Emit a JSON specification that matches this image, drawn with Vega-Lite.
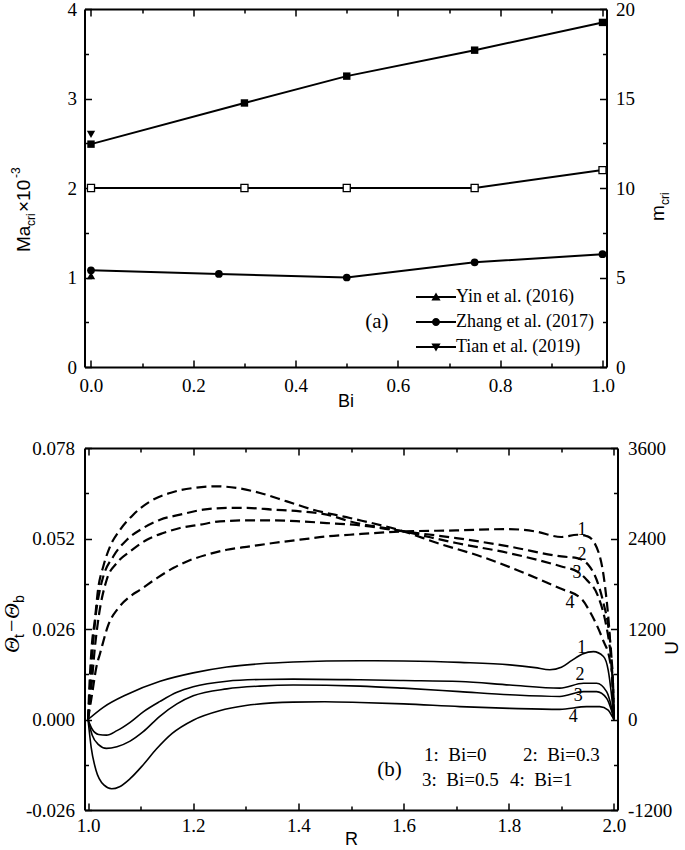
{
 "$schema": "https://vega.github.io/schema/vega-lite/v6.json",
 "background": "white",
 "padding": {"left": 0.5, "top": 0, "right": 0, "bottom": 0},
 "spacing": 29,
 "config": {
  "font": "Liberation Serif",
  "view": {"stroke": null},
  "style": {"guide-label": {"font": "Liberation Serif"}, "guide-title": {"font": "Liberation Sans"}},
  "axis": {"domainColor": "black", "domainWidth": 2, "tickColor": "black", "tickWidth": 1.5, "labelFont": "Liberation Serif", "labelFontSize": 19, "labelColor": "black", "grid": false, "labelFlush": false, "labelOverlap": false, "labelBound": false, "titleColor": "black", "titleFont": "Liberation Sans", "titleFontSize": 18, "titleFontWeight": "normal"},
  "legend": {"labelFont": "Liberation Serif"}
 },
 "datasets": {
  "pa": [
   {"s": "sq", "Bi": 0, "Ma": 2.49}, {"s": "sq", "Bi": 0.3, "Ma": 2.95}, {"s": "sq", "Bi": 0.5, "Ma": 3.25}, {"s": "sq", "Bi": 0.75, "Ma": 3.54}, {"s": "sq", "Bi": 1, "Ma": 3.85},
   {"s": "Zhang et al. (2017)", "Bi": 0, "Ma": 1.08}, {"s": "Zhang et al. (2017)", "Bi": 0.25, "Ma": 1.04}, {"s": "Zhang et al. (2017)", "Bi": 0.5, "Ma": 1.0}, {"s": "Zhang et al. (2017)", "Bi": 0.75, "Ma": 1.17}, {"s": "Zhang et al. (2017)", "Bi": 1, "Ma": 1.26},
   {"s": "Yin et al. (2016)", "Bi": 0, "Ma": 1.02},
   {"s": "Tian et al. (2019)", "Bi": 0, "Ma": 2.6}
  ],
  "pm": [
   {"Bi": 0, "m": 10}, {"Bi": 0.3, "m": 10}, {"Bi": 0.5, "m": 10}, {"Bi": 0.75, "m": 10}, {"Bi": 1, "m": 11}
  ],
  "th": [
   {"c": "1", "R": 1.0, "v": 0}, {"c": "1", "R": 1.029, "v": 0.0035}, {"c": "1", "R": 1.074, "v": 0.0072}, {"c": "1", "R": 1.137, "v": 0.011}, {"c": "1", "R": 1.2, "v": 0.0134}, {"c": "1", "R": 1.264, "v": 0.0151}, {"c": "1", "R": 1.327, "v": 0.016}, {"c": "1", "R": 1.39, "v": 0.0165}, {"c": "1", "R": 1.517, "v": 0.0169}, {"c": "1", "R": 1.6, "v": 0.0168}, {"c": "1", "R": 1.707, "v": 0.0164}, {"c": "1", "R": 1.802, "v": 0.0157}, {"c": "1", "R": 1.85, "v": 0.0149}, {"c": "1", "R": 1.878, "v": 0.0143}, {"c": "1", "R": 1.9, "v": 0.015}, {"c": "1", "R": 1.92, "v": 0.017}, {"c": "1", "R": 1.94, "v": 0.0188}, {"c": "1", "R": 1.961, "v": 0.0195}, {"c": "1", "R": 1.98, "v": 0.0181}, {"c": "1", "R": 1.989, "v": 0.0142}, {"c": "1", "R": 1.995, "v": 0.0075}, {"c": "1", "R": 2.0, "v": 0},
   {"c": "2", "R": 1.0, "v": 0}, {"c": "2", "R": 1.008, "v": -0.0028}, {"c": "2", "R": 1.02, "v": -0.0043}, {"c": "2", "R": 1.035, "v": -0.0045}, {"c": "2", "R": 1.055, "v": -0.0032}, {"c": "2", "R": 1.08, "v": -0.0008}, {"c": "2", "R": 1.105, "v": 0.0022}, {"c": "2", "R": 1.137, "v": 0.0052}, {"c": "2", "R": 1.169, "v": 0.0078}, {"c": "2", "R": 1.2, "v": 0.0094}, {"c": "2", "R": 1.264, "v": 0.011}, {"c": "2", "R": 1.327, "v": 0.0115}, {"c": "2", "R": 1.39, "v": 0.0116}, {"c": "2", "R": 1.517, "v": 0.0114}, {"c": "2", "R": 1.6, "v": 0.0112}, {"c": "2", "R": 1.707, "v": 0.0109}, {"c": "2", "R": 1.802, "v": 0.0099}, {"c": "2", "R": 1.897, "v": 0.009}, {"c": "2", "R": 1.942, "v": 0.0104}, {"c": "2", "R": 1.967, "v": 0.0104}, {"c": "2", "R": 1.986, "v": 0.008}, {"c": "2", "R": 1.995, "v": 0.0037}, {"c": "2", "R": 2.0, "v": 0},
   {"c": "3", "R": 1.0, "v": 0}, {"c": "3", "R": 1.008, "v": -0.0045}, {"c": "3", "R": 1.02, "v": -0.0072}, {"c": "3", "R": 1.035, "v": -0.0083}, {"c": "3", "R": 1.055, "v": -0.0078}, {"c": "3", "R": 1.08, "v": -0.0062}, {"c": "3", "R": 1.105, "v": -0.0035}, {"c": "3", "R": 1.137, "v": 0.001}, {"c": "3", "R": 1.169, "v": 0.0045}, {"c": "3", "R": 1.2, "v": 0.0068}, {"c": "3", "R": 1.264, "v": 0.0088}, {"c": "3", "R": 1.327, "v": 0.0096}, {"c": "3", "R": 1.39, "v": 0.0099}, {"c": "3", "R": 1.517, "v": 0.0096}, {"c": "3", "R": 1.6, "v": 0.009}, {"c": "3", "R": 1.707, "v": 0.008}, {"c": "3", "R": 1.802, "v": 0.0071}, {"c": "3", "R": 1.897, "v": 0.0066}, {"c": "3", "R": 1.942, "v": 0.008}, {"c": "3", "R": 1.967, "v": 0.008}, {"c": "3", "R": 1.986, "v": 0.0061}, {"c": "3", "R": 1.995, "v": 0.0027}, {"c": "3", "R": 2.0, "v": 0},
   {"c": "4", "R": 1.0, "v": 0}, {"c": "4", "R": 1.006, "v": -0.008}, {"c": "4", "R": 1.015, "v": -0.0145}, {"c": "4", "R": 1.03, "v": -0.0188}, {"c": "4", "R": 1.045, "v": -0.0199}, {"c": "4", "R": 1.06, "v": -0.0193}, {"c": "4", "R": 1.08, "v": -0.017}, {"c": "4", "R": 1.105, "v": -0.013}, {"c": "4", "R": 1.13, "v": -0.0085}, {"c": "4", "R": 1.16, "v": -0.004}, {"c": "4", "R": 1.2, "v": -0.0002}, {"c": "4", "R": 1.25, "v": 0.0025}, {"c": "4", "R": 1.3, "v": 0.004}, {"c": "4", "R": 1.39, "v": 0.005}, {"c": "4", "R": 1.45, "v": 0.0051}, {"c": "4", "R": 1.517, "v": 0.0049}, {"c": "4", "R": 1.6, "v": 0.0045}, {"c": "4", "R": 1.707, "v": 0.0037}, {"c": "4", "R": 1.802, "v": 0.0032}, {"c": "4", "R": 1.897, "v": 0.0029}, {"c": "4", "R": 1.948, "v": 0.0037}, {"c": "4", "R": 1.973, "v": 0.0037}, {"c": "4", "R": 1.989, "v": 0.0027}, {"c": "4", "R": 1.997, "v": 0.0008}, {"c": "4", "R": 2.0, "v": 0}
  ],
  "u": [
   {"c": "1", "R": 1.0, "U": 0}, {"c": "1", "R": 1.008, "U": 350}, {"c": "1", "R": 1.016, "U": 700}, {"c": "1", "R": 1.023, "U": 879}, {"c": "1", "R": 1.0386, "U": 1255}, {"c": "1", "R": 1.0576, "U": 1477}, {"c": "1", "R": 1.08, "U": 1631}, {"c": "1", "R": 1.099, "U": 1720}, {"c": "1", "R": 1.131, "U": 1875}, {"c": "1", "R": 1.162, "U": 2008}, {"c": "1", "R": 1.188, "U": 2096}, {"c": "1", "R": 1.226, "U": 2185}, {"c": "1", "R": 1.264, "U": 2251}, {"c": "1", "R": 1.308, "U": 2295}, {"c": "1", "R": 1.352, "U": 2340}, {"c": "1", "R": 1.403, "U": 2384}, {"c": "1", "R": 1.454, "U": 2428}, {"c": "1", "R": 1.498, "U": 2450}, {"c": "1", "R": 1.6, "U": 2494}, {"c": "1", "R": 1.7, "U": 2507}, {"c": "1", "R": 1.8, "U": 2525}, {"c": "1", "R": 1.85, "U": 2494}, {"c": "1", "R": 1.9, "U": 2420}, {"c": "1", "R": 1.93, "U": 2450}, {"c": "1", "R": 1.95, "U": 2428}, {"c": "1", "R": 1.971, "U": 2211}, {"c": "1", "R": 1.983, "U": 1764}, {"c": "1", "R": 1.992, "U": 1100}, {"c": "1", "R": 1.996, "U": 617}, {"c": "1", "R": 2.0, "U": 0},
   {"c": "2", "R": 1.0, "U": 0}, {"c": "2", "R": 1.006, "U": 400}, {"c": "2", "R": 1.013, "U": 950}, {"c": "2", "R": 1.02, "U": 1350}, {"c": "2", "R": 1.0355, "U": 1853}, {"c": "2", "R": 1.0545, "U": 2074}, {"c": "2", "R": 1.08, "U": 2228}, {"c": "2", "R": 1.112, "U": 2384}, {"c": "2", "R": 1.143, "U": 2473}, {"c": "2", "R": 1.175, "U": 2539}, {"c": "2", "R": 1.213, "U": 2583}, {"c": "2", "R": 1.251, "U": 2627}, {"c": "2", "R": 1.302, "U": 2640}, {"c": "2", "R": 1.352, "U": 2640}, {"c": "2", "R": 1.403, "U": 2627}, {"c": "2", "R": 1.454, "U": 2605}, {"c": "2", "R": 1.504, "U": 2583}, {"c": "2", "R": 1.6, "U": 2494}, {"c": "2", "R": 1.7, "U": 2406}, {"c": "2", "R": 1.8, "U": 2295}, {"c": "2", "R": 1.9, "U": 2162}, {"c": "2", "R": 1.93, "U": 2140}, {"c": "2", "R": 1.951, "U": 2052}, {"c": "2", "R": 1.967, "U": 1853}, {"c": "2", "R": 1.98, "U": 1543}, {"c": "2", "R": 1.99, "U": 1189}, {"c": "2", "R": 1.9955, "U": 790}, {"c": "2", "R": 2.0, "U": 0},
   {"c": "3", "R": 1.0, "U": 0}, {"c": "3", "R": 1.004, "U": 450}, {"c": "3", "R": 1.009, "U": 950}, {"c": "3", "R": 1.015, "U": 1400}, {"c": "3", "R": 1.022, "U": 1700}, {"c": "3", "R": 1.029, "U": 1896}, {"c": "3", "R": 1.048, "U": 2162}, {"c": "3", "R": 1.074, "U": 2384}, {"c": "3", "R": 1.105, "U": 2539}, {"c": "3", "R": 1.137, "U": 2649}, {"c": "3", "R": 1.175, "U": 2716}, {"c": "3", "R": 1.219, "U": 2782}, {"c": "3", "R": 1.264, "U": 2805}, {"c": "3", "R": 1.302, "U": 2805}, {"c": "3", "R": 1.352, "U": 2782}, {"c": "3", "R": 1.403, "U": 2760}, {"c": "3", "R": 1.454, "U": 2716}, {"c": "3", "R": 1.498, "U": 2627}, {"c": "3", "R": 1.6, "U": 2494}, {"c": "3", "R": 1.7, "U": 2340}, {"c": "3", "R": 1.8, "U": 2207}, {"c": "3", "R": 1.9, "U": 2029}, {"c": "3", "R": 1.93, "U": 1963}, {"c": "3", "R": 1.948, "U": 1853}, {"c": "3", "R": 1.97, "U": 1631}, {"c": "3", "R": 1.983, "U": 1321}, {"c": "3", "R": 1.991, "U": 1012}, {"c": "3", "R": 1.997, "U": 657}, {"c": "3", "R": 2.0, "U": 0},
   {"c": "4", "R": 1.0, "U": 0}, {"c": "4", "R": 1.003, "U": 500}, {"c": "4", "R": 1.007, "U": 967}, {"c": "4", "R": 1.013, "U": 1321}, {"c": "4", "R": 1.019, "U": 1720}, {"c": "4", "R": 1.029, "U": 2029}, {"c": "4", "R": 1.042, "U": 2295}, {"c": "4", "R": 1.061, "U": 2517}, {"c": "4", "R": 1.086, "U": 2716}, {"c": "4", "R": 1.118, "U": 2892}, {"c": "4", "R": 1.156, "U": 3004}, {"c": "4", "R": 1.2, "U": 3070}, {"c": "4", "R": 1.245, "U": 3092}, {"c": "4", "R": 1.283, "U": 3070}, {"c": "4", "R": 1.327, "U": 3004}, {"c": "4", "R": 1.378, "U": 2892}, {"c": "4", "R": 1.428, "U": 2782}, {"c": "4", "R": 1.498, "U": 2672}, {"c": "4", "R": 1.6, "U": 2494}, {"c": "4", "R": 1.664, "U": 2340}, {"c": "4", "R": 1.747, "U": 2162}, {"c": "4", "R": 1.83, "U": 1941}, {"c": "4", "R": 1.896, "U": 1742}, {"c": "4", "R": 1.938, "U": 1600}, {"c": "4", "R": 1.955, "U": 1420}, {"c": "4", "R": 1.979, "U": 1055}, {"c": "4", "R": 1.992, "U": 790}, {"c": "4", "R": 1.998, "U": 500}, {"c": "4", "R": 2.0, "U": 0}
  ]
 },
 "vconcat": [
  {
   "width": 522, "height": 358,
   "layer": [
    {
     "layer": [
      {"data": {"name": "pa"}, "transform": [{"filter": "datum.s === 'sq'"}], "mark": {"type": "line", "color": "black", "strokeWidth": 2},
       "encoding": {
        "x": {"field": "Bi", "type": "quantitative", "scale": {"domain": [-0.0127, 1.0078]},
         "axis": {"orient": "bottom", "values": [0, 0.2, 0.4, 0.6, 0.8, 1.0], "format": ".1f", "tickSize": -7, "labelPadding": 16, "labelFont": "Liberation Serif", "title": "Bi", "titlePadding": -3}},
        "y": {"field": "Ma", "type": "quantitative", "scale": {"domain": [0, 4]},
         "axis": {"orient": "left", "values": [0, 1, 2, 3, 4], "format": "d", "tickSize": -7, "labelPadding": 15, "labelFont": "Liberation Serif", "title": null}}
       }},
      {"data": {"name": "pa"}, "transform": [{"filter": "datum.s === 'sq'"}], "mark": {"type": "square", "color": "black", "filled": true, "size": 55, "opacity": 1},
       "encoding": {"x": {"field": "Bi", "type": "quantitative", "scale": {"domain": [-0.0127, 1.0078]}}, "y": {"field": "Ma", "type": "quantitative", "scale": {"domain": [0, 4]}}}},
      {"data": {"name": "pa"}, "transform": [{"filter": "datum.s === 'Zhang et al. (2017)'"}], "mark": {"type": "line", "color": "black", "strokeWidth": 2},
       "encoding": {"x": {"field": "Bi", "type": "quantitative", "scale": {"domain": [-0.0127, 1.0078]}}, "y": {"field": "Ma", "type": "quantitative", "scale": {"domain": [0, 4]}}}},
      {"data": {"name": "pa"}, "transform": [{"filter": "datum.s === 'Zhang et al. (2017)'"}], "mark": {"type": "point", "shape": "circle", "color": "black", "filled": true, "size": 60, "opacity": 1},
       "encoding": {"x": {"field": "Bi", "type": "quantitative", "scale": {"domain": [-0.0127, 1.0078]}}, "y": {"field": "Ma", "type": "quantitative", "scale": {"domain": [0, 4]}}}},
      {"data": {"name": "pa"}, "transform": [{"filter": "datum.s === 'Yin et al. (2016)'"}], "mark": {"type": "point", "shape": "triangle-up", "color": "black", "filled": true, "size": 70, "opacity": 1},
       "encoding": {"x": {"field": "Bi", "type": "quantitative", "scale": {"domain": [-0.0127, 1.0078]}}, "y": {"field": "Ma", "type": "quantitative", "scale": {"domain": [0, 4]}}}},
      {"data": {"name": "pa"}, "transform": [{"filter": "datum.s === 'Tian et al. (2019)'"}], "mark": {"type": "point", "shape": "triangle-down", "color": "black", "filled": true, "size": 70, "opacity": 1},
       "encoding": {"x": {"field": "Bi", "type": "quantitative", "scale": {"domain": [-0.0127, 1.0078]}}, "y": {"field": "Ma", "type": "quantitative", "scale": {"domain": [0, 4]}}}},
      {"data": {"name": "pa"}, "transform": [{"filter": "datum.s !== 'sq'"}], "mark": {"type": "point", "color": "black", "filled": true, "size": 64, "opacity": 0},
       "encoding": {
        "x": {"field": "Bi", "type": "quantitative", "scale": {"domain": [-0.0127, 1.0078]}},
        "y": {"field": "Ma", "type": "quantitative", "scale": {"domain": [0, 4]}},
        "shape": {"field": "s", "type": "nominal", "scale": {"domain": ["Yin et al. (2016)", "Zhang et al. (2017)", "Tian et al. (2019)"], "range": ["M-5,-0.25H5V0.25H-5ZM0,-1.15L1.15,0.85L-1.15,0.85Z", "M-5,-0.25H5V0.25H-5ZM-1,0A1,1,0,1,1,1,0A1,1,0,1,1,-1,0Z", "M-5,-0.25H5V0.25H-5ZM0,1.15L-1.15,-0.85L1.15,-0.85Z"]},
         "legend": {"orient": "none", "legendX": 342.5, "legendY": 279, "title": null, "labelFont": "Liberation Serif", "labelFontSize": 18, "labelColor": "black", "symbolSize": 64, "symbolOpacity": 1, "symbolFillColor": "black", "labelOffset": 11, "rowPadding": 7}}
       }},
      {"data": {"values": [{}]}, "mark": {"type": "text", "text": "(a)", "font": "Liberation Serif", "fontSize": 21, "align": "center", "baseline": "middle", "color": "black"},
       "encoding": {"x": {"datum": 0.559, "type": "quantitative", "scale": {"domain": [-0.0127, 1.0078]}}, "y": {"datum": 0.503, "type": "quantitative", "scale": {"domain": [0, 4]}}}},
      {"data": {"values": [{}]}, "mark": {"type": "text", "text": "Ma", "font": "Liberation Sans", "fontSize": 19, "angle": 270, "align": "left", "baseline": "alphabetic", "color": "black"},
       "encoding": {"x": {"datum": -0.1192, "type": "quantitative", "scale": {"domain": [-0.0127, 1.0078]}}, "y": {"datum": 1.285, "type": "quantitative", "scale": {"domain": [0, 4]}}}},
      {"data": {"values": [{}]}, "mark": {"type": "text", "text": "cri", "font": "Liberation Sans", "fontSize": 12, "angle": 270, "align": "left", "baseline": "alphabetic", "dx": 26, "dy": 5, "color": "black"},
       "encoding": {"x": {"datum": -0.1192, "type": "quantitative", "scale": {"domain": [-0.0127, 1.0078]}}, "y": {"datum": 1.285, "type": "quantitative", "scale": {"domain": [0, 4]}}}},
      {"data": {"values": [{}]}, "mark": {"type": "text", "text": "×10", "font": "Liberation Sans", "fontSize": 19, "angle": 270, "align": "left", "baseline": "alphabetic", "dx": 40, "color": "black"},
       "encoding": {"x": {"datum": -0.1192, "type": "quantitative", "scale": {"domain": [-0.0127, 1.0078]}}, "y": {"datum": 1.285, "type": "quantitative", "scale": {"domain": [0, 4]}}}},
      {"data": {"values": [{}]}, "mark": {"type": "text", "text": "-3", "font": "Liberation Sans", "fontSize": 12, "angle": 270, "align": "left", "baseline": "alphabetic", "dx": 74, "dy": -10, "color": "black"},
       "encoding": {"x": {"datum": -0.1192, "type": "quantitative", "scale": {"domain": [-0.0127, 1.0078]}}, "y": {"datum": 1.285, "type": "quantitative", "scale": {"domain": [0, 4]}}}}
     ]
    },
    {
     "layer": [
      {"data": {"name": "pm"}, "mark": {"type": "line", "color": "black", "strokeWidth": 2},
       "encoding": {
        "x": {"field": "Bi", "type": "quantitative", "scale": {"domain": [-0.0127, 1.0078]},
         "axis": {"orient": "top", "values": [0, 0.2, 0.4, 0.6, 0.8, 1.0], "labels": false, "tickSize": -7, "title": null}},
        "y": {"field": "m", "type": "quantitative", "scale": {"domain": [0, 20]},
         "axis": {"orient": "right", "values": [0, 5, 10, 15, 20], "format": "d", "tickSize": -7, "labelPadding": 16, "labelFont": "Liberation Serif", "title": null}}
       }},
      {"data": {"name": "pm"}, "mark": {"type": "square", "filled": true, "fill": "white", "stroke": "black", "strokeWidth": 1.3, "size": 50, "opacity": 1},
       "encoding": {"x": {"field": "Bi", "type": "quantitative", "scale": {"domain": [-0.0127, 1.0078]}}, "y": {"field": "m", "type": "quantitative", "scale": {"domain": [0, 20]}}}},
      {"data": {"values": [{}]}, "mark": {"type": "text", "text": "m", "font": "Liberation Sans", "fontSize": 19, "angle": 270, "align": "left", "baseline": "alphabetic", "color": "black"},
       "encoding": {"x": {"datum": 1.1203, "type": "quantitative", "scale": {"domain": [-0.0127, 1.0078]}}, "y": {"datum": 8.16, "type": "quantitative", "scale": {"domain": [0, 20]}}}},
      {"data": {"values": [{}]}, "mark": {"type": "text", "text": "cri", "font": "Liberation Sans", "fontSize": 12, "angle": 270, "align": "left", "baseline": "alphabetic", "dx": 16, "dy": 5, "color": "black"},
       "encoding": {"x": {"datum": 1.1203, "type": "quantitative", "scale": {"domain": [-0.0127, 1.0078]}}, "y": {"datum": 8.16, "type": "quantitative", "scale": {"domain": [0, 20]}}}}
     ]
    },
    {
     "layer": [
      {"data": {"values": [{}]}, "mark": {"type": "text", "text": ""},
       "encoding": {
        "x": {"datum": 0.5, "type": "quantitative", "scale": {"domain": [-0.0127, 1.0078]}, "axis": {"orient": "bottom", "values": [0.1, 0.3, 0.5, 0.7, 0.9], "labels": false, "domain": false, "tickSize": -4, "title": null}},
        "y": {"datum": 2, "type": "quantitative", "scale": {"domain": [0, 4]}, "axis": {"orient": "left", "values": [0.5, 1.5, 2.5, 3.5], "labels": false, "domain": false, "tickSize": -4, "title": null}}
       }}
     ]
    },
    {
     "layer": [
      {"data": {"values": [{}]}, "mark": {"type": "text", "text": ""},
       "encoding": {
        "x": {"datum": 0.5, "type": "quantitative", "scale": {"domain": [-0.0127, 1.0078]}, "axis": {"orient": "top", "values": [0.1, 0.3, 0.5, 0.7, 0.9], "labels": false, "domain": false, "tickSize": -4, "title": null}},
        "y": {"datum": 2, "type": "quantitative", "scale": {"domain": [0, 4]}, "axis": {"orient": "right", "values": [0.5, 1.5, 2.5, 3.5], "labels": false, "domain": false, "tickSize": -4, "title": null}}
       }}
     ]
    }
   ],
   "resolve": {"scale": {"y": "independent"}, "axis": {"x": "independent"}}
  },
  {
   "width": 533, "height": 362,
   "layer": [
    {
     "layer": [
      {"data": {"name": "th"}, "mark": {"type": "line", "color": "black", "strokeWidth": 1.6, "interpolate": "monotone"},
       "encoding": {
        "x": {"field": "R", "type": "quantitative", "scale": {"domain": [0.9933, 2.0067]},
         "axis": {"orient": "bottom", "values": [1.0, 1.2, 1.4, 1.6, 1.8, 2.0], "format": ".1f", "tickSize": -7, "labelPadding": 13, "labelFont": "Liberation Serif", "title": "R", "titlePadding": -5}},
        "y": {"field": "v", "type": "quantitative", "scale": {"domain": [-0.026, 0.078]},
         "axis": {"orient": "left", "values": [-0.026, 0, 0.026, 0.052, 0.078], "labelExpr": "replace(format(datum.value,'.3f'),'\u2212','-')", "tickSize": -7, "labelPadding": 17, "labelFont": "Liberation Serif", "title": null}},
        "detail": {"field": "c", "type": "nominal"}
       }},
      {"data": {"values": [{}]}, "mark": {"type": "text", "text": "Θ", "font": "Liberation Serif", "fontStyle": "italic", "fontSize": 22, "angle": 270, "align": "left", "baseline": "alphabetic", "color": "black"},
       "encoding": {"x": {"datum": 0.8688, "type": "quantitative", "scale": {"domain": [0.9933, 2.0067]}}, "y": {"datum": 0.0191, "type": "quantitative", "scale": {"domain": [-0.026, 0.078]}}}},
      {"data": {"values": [{}]}, "mark": {"type": "text", "text": "t", "font": "Liberation Sans", "fontSize": 14, "angle": 270, "align": "left", "baseline": "alphabetic", "dx": 15, "dy": 5, "color": "black"},
       "encoding": {"x": {"datum": 0.8688, "type": "quantitative", "scale": {"domain": [0.9933, 2.0067]}}, "y": {"datum": 0.0191, "type": "quantitative", "scale": {"domain": [-0.026, 0.078]}}}},
      {"data": {"values": [{}]}, "mark": {"type": "text", "text": "−", "font": "Liberation Serif", "fontSize": 22, "angle": 270, "align": "left", "baseline": "alphabetic", "dx": 21, "color": "black"},
       "encoding": {"x": {"datum": 0.8688, "type": "quantitative", "scale": {"domain": [0.9933, 2.0067]}}, "y": {"datum": 0.0191, "type": "quantitative", "scale": {"domain": [-0.026, 0.078]}}}},
      {"data": {"values": [{}]}, "mark": {"type": "text", "text": "Θ", "font": "Liberation Serif", "fontStyle": "italic", "fontSize": 22, "angle": 270, "align": "left", "baseline": "alphabetic", "dx": 34, "color": "black"},
       "encoding": {"x": {"datum": 0.8688, "type": "quantitative", "scale": {"domain": [0.9933, 2.0067]}}, "y": {"datum": 0.0191, "type": "quantitative", "scale": {"domain": [-0.026, 0.078]}}}},
      {"data": {"values": [{}]}, "mark": {"type": "text", "text": "b", "font": "Liberation Sans", "fontSize": 14, "angle": 270, "align": "left", "baseline": "alphabetic", "dx": 50, "dy": 5, "color": "black"},
       "encoding": {"x": {"datum": 0.8688, "type": "quantitative", "scale": {"domain": [0.9933, 2.0067]}}, "y": {"datum": 0.0191, "type": "quantitative", "scale": {"domain": [-0.026, 0.078]}}}},
      {"data": {"values": [{}]}, "mark": {"type": "text", "text": "U", "font": "Liberation Sans", "fontSize": 19, "angle": 270, "align": "center", "baseline": "middle", "color": "black"},
       "encoding": {"x": {"datum": 2.1102, "type": "quantitative", "scale": {"domain": [0.9933, 2.0067]}}, "y": {"datum": 0.0206, "type": "quantitative", "scale": {"domain": [-0.026, 0.078]}}}},
      {"data": {"values": [{}]}, "mark": {"type": "text", "text": "1", "font": "Liberation Serif", "fontSize": 18, "align": "center", "baseline": "middle", "color": "black"},
       "encoding": {"x": {"datum": 1.9392, "type": "quantitative", "scale": {"domain": [0.9933, 2.0067]}}, "y": {"datum": 0.0545, "type": "quantitative", "scale": {"domain": [-0.026, 0.078]}}}},
      {"data": {"values": [{}]}, "mark": {"type": "text", "text": "2", "font": "Liberation Serif", "fontSize": 18, "align": "center", "baseline": "middle", "color": "black"},
       "encoding": {"x": {"datum": 1.9392, "type": "quantitative", "scale": {"domain": [0.9933, 2.0067]}}, "y": {"datum": 0.0473, "type": "quantitative", "scale": {"domain": [-0.026, 0.078]}}}},
      {"data": {"values": [{}]}, "mark": {"type": "text", "text": "3", "font": "Liberation Serif", "fontSize": 18, "align": "center", "baseline": "middle", "color": "black"},
       "encoding": {"x": {"datum": 1.9297, "type": "quantitative", "scale": {"domain": [0.9933, 2.0067]}}, "y": {"datum": 0.0421, "type": "quantitative", "scale": {"domain": [-0.026, 0.078]}}}},
      {"data": {"values": [{}]}, "mark": {"type": "text", "text": "4", "font": "Liberation Serif", "fontSize": 18, "align": "center", "baseline": "middle", "color": "black"},
       "encoding": {"x": {"datum": 1.9164, "type": "quantitative", "scale": {"domain": [0.9933, 2.0067]}}, "y": {"datum": 0.0334, "type": "quantitative", "scale": {"domain": [-0.026, 0.078]}}}},
      {"data": {"values": [{}]}, "mark": {"type": "text", "text": "1", "font": "Liberation Serif", "fontSize": 18, "align": "center", "baseline": "middle", "color": "black"},
       "encoding": {"x": {"datum": 1.9386, "type": "quantitative", "scale": {"domain": [0.9933, 2.0067]}}, "y": {"datum": 0.0205, "type": "quantitative", "scale": {"domain": [-0.026, 0.078]}}}},
      {"data": {"values": [{}]}, "mark": {"type": "text", "text": "2", "font": "Liberation Serif", "fontSize": 18, "align": "center", "baseline": "middle", "color": "black"},
       "encoding": {"x": {"datum": 1.9354, "type": "quantitative", "scale": {"domain": [0.9933, 2.0067]}}, "y": {"datum": 0.0128, "type": "quantitative", "scale": {"domain": [-0.026, 0.078]}}}},
      {"data": {"values": [{}]}, "mark": {"type": "text", "text": "3", "font": "Liberation Serif", "fontSize": 18, "align": "center", "baseline": "middle", "color": "black"},
       "encoding": {"x": {"datum": 1.9321, "type": "quantitative", "scale": {"domain": [0.9933, 2.0067]}}, "y": {"datum": 0.0068, "type": "quantitative", "scale": {"domain": [-0.026, 0.078]}}}},
      {"data": {"values": [{}]}, "mark": {"type": "text", "text": "4", "font": "Liberation Serif", "fontSize": 18, "align": "center", "baseline": "middle", "color": "black"},
       "encoding": {"x": {"datum": 1.9226, "type": "quantitative", "scale": {"domain": [0.9933, 2.0067]}}, "y": {"datum": 0.0008, "type": "quantitative", "scale": {"domain": [-0.026, 0.078]}}}},
      {"data": {"values": [{}]}, "mark": {"type": "text", "text": "1:\u00a0\u00a0Bi=0", "font": "Liberation Serif", "fontSize": 19, "align": "left", "baseline": "middle", "color": "black"},
       "encoding": {"x": {"datum": 1.6388, "type": "quantitative", "scale": {"domain": [0.9933, 2.0067]}}, "y": {"datum": -0.0102, "type": "quantitative", "scale": {"domain": [-0.026, 0.078]}}}},
      {"data": {"values": [{}]}, "mark": {"type": "text", "text": "2:\u00a0\u00a0Bi=0.3", "font": "Liberation Serif", "fontSize": 19, "align": "left", "baseline": "middle", "color": "black"},
       "encoding": {"x": {"datum": 1.827, "type": "quantitative", "scale": {"domain": [0.9933, 2.0067]}}, "y": {"datum": -0.0102, "type": "quantitative", "scale": {"domain": [-0.026, 0.078]}}}},
      {"data": {"values": [{}]}, "mark": {"type": "text", "text": "3:\u00a0\u00a0Bi=0.5", "font": "Liberation Serif", "fontSize": 19, "align": "left", "baseline": "middle", "color": "black"},
       "encoding": {"x": {"datum": 1.635, "type": "quantitative", "scale": {"domain": [0.9933, 2.0067]}}, "y": {"datum": -0.0174, "type": "quantitative", "scale": {"domain": [-0.026, 0.078]}}}},
      {"data": {"values": [{}]}, "mark": {"type": "text", "text": "4:\u00a0\u00a0Bi=1", "font": "Liberation Serif", "fontSize": 19, "align": "left", "baseline": "middle", "color": "black"},
       "encoding": {"x": {"datum": 1.8023, "type": "quantitative", "scale": {"domain": [0.9933, 2.0067]}}, "y": {"datum": -0.0174, "type": "quantitative", "scale": {"domain": [-0.026, 0.078]}}}},
      {"data": {"values": [{}]}, "mark": {"type": "text", "text": "(b)", "font": "Liberation Serif", "fontSize": 21, "align": "center", "baseline": "middle", "color": "black"},
       "encoding": {"x": {"datum": 1.5732, "type": "quantitative", "scale": {"domain": [0.9933, 2.0067]}}, "y": {"datum": -0.0145, "type": "quantitative", "scale": {"domain": [-0.026, 0.078]}}}}
     ]
    },
    {
     "layer": [
      {"data": {"name": "u"}, "mark": {"type": "line", "color": "black", "strokeWidth": 2.2, "strokeDash": [10, 5], "interpolate": "monotone"},
       "encoding": {
        "x": {"field": "R", "type": "quantitative", "scale": {"domain": [0.9933, 2.0067]},
         "axis": {"orient": "top", "values": [1.0, 1.2, 1.4, 1.6, 1.8, 2.0], "labels": false, "tickSize": -7, "title": null}},
        "y": {"field": "U", "type": "quantitative", "scale": {"domain": [-1200, 3600]},
         "axis": {"orient": "right", "values": [-1200, 0, 1200, 2400, 3600], "labelExpr": "replace(format(datum.value,'d'),'\u2212','-')", "tickSize": -7, "labelPadding": 17, "labelFont": "Liberation Serif", "title": null}},
        "detail": {"field": "c", "type": "nominal"}
       }}
     ]
    },
    {
     "layer": [
      {"data": {"values": [{}]}, "mark": {"type": "text", "text": ""},
       "encoding": {
        "x": {"datum": 1.5, "type": "quantitative", "scale": {"domain": [0.9933, 2.0067]}, "axis": {"orient": "bottom", "values": [1.1, 1.3, 1.5, 1.7, 1.9], "labels": false, "domain": false, "tickSize": -4, "title": null}},
        "y": {"datum": 0.026, "type": "quantitative", "scale": {"domain": [-0.026, 0.078]}, "axis": {"orient": "left", "values": [-0.013, 0.013, 0.039, 0.065], "labels": false, "domain": false, "tickSize": -4, "title": null}}
       }}
     ]
    },
    {
     "layer": [
      {"data": {"values": [{}]}, "mark": {"type": "text", "text": ""},
       "encoding": {
        "x": {"datum": 1.5, "type": "quantitative", "scale": {"domain": [0.9933, 2.0067]}, "axis": {"orient": "top", "values": [1.1, 1.3, 1.5, 1.7, 1.9], "labels": false, "domain": false, "tickSize": -4, "title": null}},
        "y": {"datum": 0.026, "type": "quantitative", "scale": {"domain": [-0.026, 0.078]}, "axis": {"orient": "right", "values": [-0.013, 0.013, 0.039, 0.065], "labels": false, "domain": false, "tickSize": -4, "title": null}}
       }}
     ]
    }
   ],
   "resolve": {"scale": {"y": "independent"}, "axis": {"x": "independent"}}
  }
 ]
}
